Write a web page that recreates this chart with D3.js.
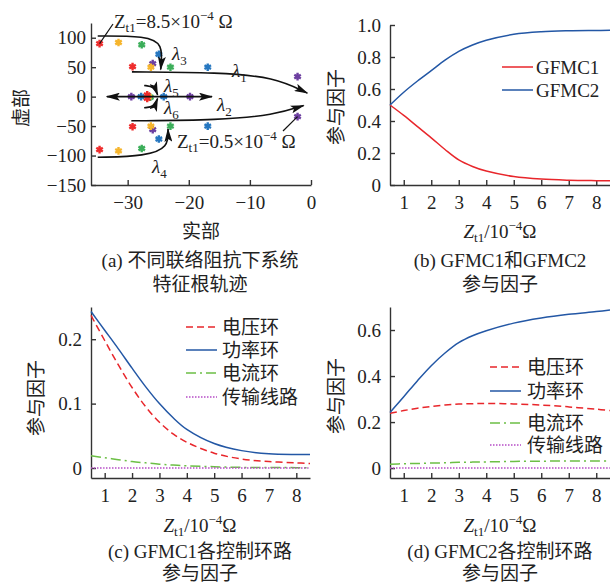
<!DOCTYPE html>
<html>
<head>
<meta charset="utf-8">
<style>
	body { margin:0; background:#fff; }
	svg { position:absolute; top:0px; left:0px; }
	text { font-family:"Liberation Serif","Noto Sans CJK SC",serif; fill:#222; }
	.axis path, .axis line { stroke:#333; stroke-width:1.4px; }
	.axis text { font-size:19px; }
	.lbl { font-size:19px; }
	.loc { fill:none; stroke:#111; stroke-width:1.6px; }
	.curve { fill:none; stroke-width:1.5px; }
</style>
<script src="https://cdnjs.cloudflare.com/ajax/libs/d3/7.8.5/d3.min.js"></script>
</head>
<body>
<svg width="610" height="585"></svg>
<script>
// ---- data ----
// (a) eigenvalue loci, [real, imag]
var redPts    = [[-34.6,90],[-34.6,-90],[-29.2,51],[-29.2,-51],[-26.8,3],[-26.8,-3]];
var yellowPts = [[-31.5,92],[-31.5,-92],[-26.2,50],[-26.2,-50],[-26.6,0]];
var greenPts  = [[-27.7,88],[-27.7,-88],[-23.0,50],[-23.0,-50],[-26.3,-1]];
var bluePts   = [[-24.9,72],[-24.9,-72],[-16.9,50],[-16.9,-50],[-27.8,0],[-24.1,0]];
var purplePts = [[-25.9,56],[-25.9,-56],[-2.2,34],[-2.2,-34],[-29.4,0],[-19.8,0]];
var aXTicks = [-30,-20,-10,0];
var aYTicks = [-150,-100,-50,0,50,100];

// (b)(c)(d) x values, Zt1 / 1e-4 ohm
var zt = [0.5,1,1.5,2,2.5,3,3.5,4,5,6,7,8,8.5];
var zTicks = [1,2,3,4,5,6,7,8];

var gfmc1 = [0.5,0.435,0.365,0.295,0.222,0.157,0.116,0.087,0.053,0.037,0.03,0.027,0.026];
var gfmc2 = [0.5,0.58,0.65,0.715,0.78,0.835,0.875,0.905,0.942,0.958,0.964,0.966,0.967];

var c_volt  = [0.237,0.198,0.16,0.125,0.095,0.071,0.053,0.04,0.023,0.014,0.01,0.008,0.007];
var c_power = [0.243,0.214,0.185,0.155,0.126,0.1,0.078,0.06,0.038,0.027,0.022,0.021,0.021];
var c_curr  = [0.019,0.016,0.013,0.01,0.008,0.006,0.0045,0.0035,0.002,0.001,0.0008,0.0006,0.0005];
var c_line  = [0,0,0,0,0,0,0,0,0,0,0,0,0];

var d_volt  = [0.238,0.25,0.26,0.268,0.274,0.278,0.28,0.281,0.279,0.274,0.266,0.256,0.25];
var d_power = [0.242,0.31,0.38,0.445,0.5,0.545,0.575,0.597,0.63,0.652,0.668,0.68,0.687];
var d_curr  = [0.017,0.019,0.02,0.022,0.023,0.025,0.026,0.027,0.029,0.03,0.031,0.031,0.031];
var d_line  = [0,0,0,0,0,0,0,0,0,0,0,0,0];

var loopNames = ["电压环","功率环","电流环","传输线路"];

var RED = "#e8262b", BLUE = "#2357a5", GREEN = "#6cbf45", PURPLE = "#b64cc6";

var svg = d3.select("svg");
var defs = svg.append("defs");
defs.append("marker").attr("id","arr")
	.attr("viewBox","0 0 14 8").attr("refX",13).attr("refY",4)
	.attr("markerWidth",14).attr("markerHeight",8)
	.attr("markerUnits","userSpaceOnUse").attr("orient","auto-start-reverse")
	.append("path").attr("d","M0,0 L14,4 L0,8 L3,4 Z").attr("fill","#111");

function zLabel(g, x, y, mid, tail, italic, anchor) {
	var t = g.append("text").attr("class","lbl").attr("x",x).attr("y",y).attr("text-anchor",anchor||"start");
	t.append("tspan").style("font-style", italic ? "italic" : "normal").text("Z");
	t.append("tspan").attr("dy",4).style("font-size","13px").text("t1");
	t.append("tspan").attr("dy",-4).text(mid);
	t.append("tspan").attr("dy",-8).style("font-size","13px").text("\u22124");
	t.append("tspan").attr("dy",8).text(tail);
}

function lamLabel(g, x, y, n) {
	var t = g.append("text").attr("class","lbl").attr("x",x).attr("y",y);
	t.append("tspan").style("font-style","italic").text("\u03bb");
	t.append("tspan").attr("dy",5).style("font-size","13px").text(n);
}

function caption(cx, y1, line1, y2, line2) {
	svg.append("text").attr("class","lbl").attr("x",cx).attr("y",y1).attr("text-anchor","middle").text(line1);
	svg.append("text").attr("class","lbl").attr("x",cx).attr("y",y2).attr("text-anchor","middle").text(line2);
}

function yTitle(x, y, s) {
	svg.append("text").attr("class","lbl").attr("transform","translate(" + x + "," + y + ") rotate(-90)")
		.attr("text-anchor","middle").attr("dy","0.35em").text(s);
}

// ================= (a) =================
var ax = d3.scaleLinear().domain([-36,0]).range([91,311]);
var ay = d3.scaleLinear().domain([-150,125]).range([185,23]);

svg.append("g").attr("class","axis").attr("transform","translate(0,185)")
	.call(d3.axisBottom(ax).tickValues(aXTicks).tickSizeInner(-5).tickSizeOuter(0).tickPadding(11));
svg.append("g").attr("class","axis").attr("transform","translate(91,0)")
	.call(d3.axisLeft(ay).tickValues(aYTicks).tickSizeInner(-5).tickSizeOuter(0).tickPadding(5));

var star = d3.symbol().type(d3.symbolAsterisk).size(40);
[[purplePts,"#6c3fa0"],[bluePts,"#2677c0"],[greenPts,"#3cae5a"],[yellowPts,"#f6b52c"],[redPts,"#ee2c2c"]].forEach(function(s) {
	svg.append("g").selectAll("path").data(s[0]).enter().append("path")
		.attr("d", star)
		.attr("transform", function(d) { return "translate(" + ax(d[0]) + "," + ay(d[1]) + ")"; })
		.attr("fill","none").attr("stroke", s[1]).attr("stroke-width",2.4);
});

var loci = [
	[[-34.9,103],[-27,103],[-24.2,90],[-24.6,46]],
	[[-34.9,-103],[-27,-101],[-23.3,-86],[-23.4,-55]],
	[[-29.3,42],[-15,41],[-6,33],[-0.6,6]],
	[[-29.4,-41],[-15,-40],[-6,-31],[-1.2,-15]],
	[[-27.3,19],[-25.6,17],[-25.1,3]],
	[[-27.3,-19],[-25.6,-17],[-25.1,-3]]
];
var locLine = d3.line().x(function(d){ return ax(d[0]); }).y(function(d){ return ay(d[1]); }).curve(d3.curveBasis);
svg.append("g").selectAll("path").data(loci).enter().append("path")
	.attr("class","loc").attr("d", locLine).attr("marker-end","url(#arr)");
svg.append("path").attr("class","loc")
	.attr("d", locLine.curve(d3.curveLinear)([[-33.4,0],[-16.2,0]]))
	.attr("marker-start","url(#arr)").attr("marker-end","url(#arr)");

lamLabel(svg, 232, 77, "1");
lamLabel(svg, 217, 111, "2");
lamLabel(svg, 172, 60, "3");
lamLabel(svg, 152, 173, "4");
lamLabel(svg, 164, 92, "5");
lamLabel(svg, 164, 114, "6");

svg.append("line").attr("x1",ax(-34.6)).attr("y1",ay(90)).attr("x2",113).attr("y2",24).attr("stroke","#111").attr("stroke-width",1.2);
svg.append("line").attr("x1",ax(-2.2)).attr("y1",ay(-34)).attr("x2",283).attr("y2",131).attr("stroke","#111").attr("stroke-width",1.2);
zLabel(svg, 114, 28, "=8.5\u00d710", " \u03a9", false);
zLabel(svg, 177, 148, "=0.5\u00d710", " \u03a9", false);

yTitle(21, 108, "虚部");
svg.append("text").attr("class","lbl").attr("x",201).attr("y",238).attr("text-anchor","middle").text("实部");
caption(200, 267, "(a) 不同联络阻抗下系统", 291, "特征根轨迹");

// ================= line panels =================
function fmt1(d) { return d === 0 ? "0" : d.toFixed(1); }

function linePanel(x0, x1, yBottom, yTop, yDomain, yTicks, series, pad) {
	var x = d3.scaleLinear().domain([0.5,8.5]).range([x0,x1]);
	var y = d3.scaleLinear().domain(yDomain).range([yBottom,yTop]);
	svg.append("g").attr("class","axis").attr("transform","translate(0," + yBottom + ")")
		.call(d3.axisBottom(x).tickValues(zTicks).tickSizeInner(-5).tickSizeOuter(0).tickPadding(11));
	svg.append("g").attr("class","axis").attr("transform","translate(" + x0 + ",0)")
		.call(d3.axisLeft(y).tickValues(yTicks).tickFormat(fmt1).tickSizeInner(-5).tickSizeOuter(0).tickPadding(pad));
	var line = d3.line().x(function(d,i){ return x(zt[i]); }).y(function(d){ return y(d); }).curve(d3.curveCatmullRom);
	series.forEach(function(s) {
		svg.append("path").attr("class","curve").attr("d", line(s.v))
			.attr("stroke", s.c).attr("stroke-dasharray", s.dash || null);
	});
}

function legend(lx, tx, rows, series) {
	series.forEach(function(s, i) {
		svg.append("line").attr("x1",lx).attr("x2",lx+31).attr("y1",rows[i]).attr("y2",rows[i])
			.attr("stroke", s.c).attr("stroke-width",1.5).attr("stroke-dasharray", s.dash || null);
		svg.append("text").attr("class","lbl").attr("x",tx).attr("y",rows[i]).attr("dy","0.35em").text(s.name);
	});
}

// (b)
var bSeries = [{v:gfmc1, c:RED, name:"GFMC1"}, {v:gfmc2, c:BLUE, name:"GFMC2"}];
linePanel(390, 610, 185, 25, [0,1], [0,0.2,0.4,0.6,0.8,1.0], bSeries, 9);
legend(502, 536, [67,90], bSeries);
yTitle(336, 107, "参与因子");
zLabel(svg, 500, 238, "/10", "\u03a9", true, "middle");
caption(500, 267, "(b) GFMC1和GFMC2", 291, "参与因子");

// (c)
var cSeries = [
	{v:c_volt, c:RED, dash:"7,4", name:loopNames[0]},
	{v:c_power, c:BLUE, name:loopNames[1]},
	{v:c_curr, c:GREEN, dash:"10,4,2,4", name:loopNames[2]},
	{v:c_line, c:PURPLE, dash:"1.5,1.5", name:loopNames[3]}
];
linePanel(91, 310, 478, 307, [-0.0155,0.25], [0,0.1,0.2], cSeries, 9);
legend(186, 222, [327,350,373,397], cSeries);
yTitle(36, 398, "参与因子");
zLabel(svg, 200, 532, "/10", "\u03a9", true, "middle");
caption(200, 558, "(c) GFMC1各控制环路", 580, "参与因子");

// (d)
var dSeries = [
	{v:d_volt, c:RED, dash:"7,4", name:loopNames[0]},
	{v:d_power, c:BLUE, name:loopNames[1]},
	{v:d_curr, c:GREEN, dash:"10,4,2,4", name:loopNames[2]},
	{v:d_line, c:PURPLE, dash:"1.5,1.5", name:loopNames[3]}
];
linePanel(390, 610, 478, 307, [-0.043,0.7], [0,0.2,0.4,0.6], dSeries, 9);
legend(490, 527, [367,391,423,445], dSeries);
yTitle(336, 396, "参与因子");
zLabel(svg, 500, 532, "/10", "\u03a9", true, "middle");
caption(500, 558, "(d) GFMC2各控制环路", 580, "参与因子");
</script>
</body>
</html>
